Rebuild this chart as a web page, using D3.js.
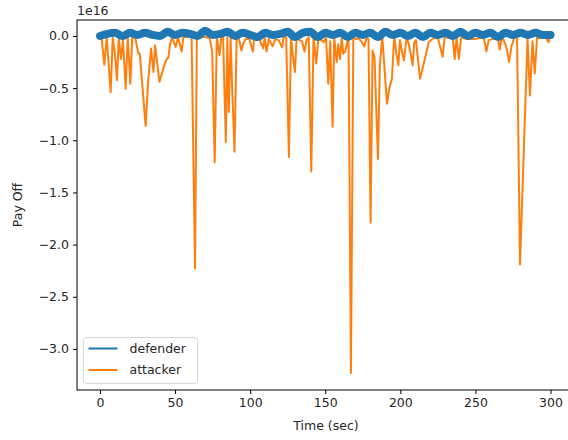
<!DOCTYPE html>
<html>
<head>
<meta charset="utf-8">
<script src="https://cdn.jsdelivr.net/npm/d3@7"></script>
<style>
  body { margin: 0; background: #fff; }
  svg { display: block; font-family: "DejaVu Sans", sans-serif; }
</style>
</head>
<body>
<div id="chart"></div>
<script>
// values in units of 1e16
const defenderTime = d3.range(0, 301, 5);
const defenderPayoff = [
    0.00, 0.02, 0.03, 0.00, 0.03, 0.01, 0.03, 0.01, 0.00, 0.04,
    0.01, 0.03, 0.02, 0.00, 0.05, 0.01, 0.02, 0.04, 0.00, 0.03,
    0.01, -0.01, 0.03, 0.01, 0.02, 0.04, -0.01, 0.03, 0.04, -0.01,
    0.03, 0.01, 0.03, -0.01, 0.03, 0.01, 0.03, -0.01, 0.04, 0.01,
    0.03, 0.00, 0.03, -0.01, 0.03, 0.01, 0.03, 0.00, 0.04, 0.00,
    0.03, 0.01, 0.03, -0.01, 0.03, 0.01, 0.03, 0.01, 0.03, 0.01,
    0.01
];

const attackerTime = [
    1, 2.9, 4.5, 7.1, 8.5, 10, 11.3, 12.5, 14, 15.3,
    17.1, 18.5, 20.2, 21.5, 23.5, 25.6, 26.5, 30.4, 32, 34,
    35.6, 36.7, 39.6, 42.2, 44.4, 45.5, 46.7, 48, 50.4, 52,
    54.4, 55.5, 58, 61, 63.3, 64.5, 67, 70, 73, 74.7,
    76.4, 77.8, 79.6, 80.8, 82, 83.8, 84.8, 85.8, 87, 88,
    89.6, 91, 92.5, 94.2, 95.5, 97, 99.5, 101.8, 102.8, 105.5,
    108.7, 109.7, 110.9, 112.5, 114.9, 116.8, 119, 121.3, 122.3, 124,
    125.8, 127.2, 128.4, 129.8, 131, 132.8, 134.5, 136.2, 137.5, 139,
    140.7, 142.2, 144, 145.3, 146.7, 149, 150.5, 152, 153.3, 154.9,
    156, 157.6, 158.7, 159.9, 161, 162, 163.2, 164.2, 165.5, 167.1,
    168.7, 170.5, 172.2, 173.8, 176, 177.5, 178.8, 180.2, 181.5, 182.8,
    185.1, 186.4, 188, 191.1, 192.7, 194.4, 195.9, 197.4, 198.7, 199.8,
    201, 202.4, 204.2, 206, 208.2, 209.3, 210.4, 213.1, 216, 218.9,
    222, 225, 228.2, 229.5, 232, 234.8, 236.2, 237.4, 239, 240.5,
    244, 250, 255.5, 257.3, 258.8, 261.5, 264.8, 266.2, 267.5, 268.8,
    270.5, 272.4, 274, 276, 277.7, 279.7, 284.7, 286.3, 288, 289.5,
    291, 293, 295, 297, 298.7, 299.5
];
const attackerPayoff = [
    -0.01, -0.275, -0.01, -0.54, -0.02, -0.18, -0.425, -0.02, -0.22, -0.04,
    -0.505, -0.01, -0.457, -0.01, -0.02, -0.17, -0.17, -0.863, -0.45, -0.12,
    -0.345, -0.09, -0.44, -0.31, -0.22, -0.21, -0.08, -0.01, -0.105, -0.01,
    -0.15, -0.01, -0.01, -0.01, -2.23, -0.01, -0.01, -0.01, -0.02, -0.15,
    -1.21, -0.01, -0.185, -0.01, -0.02, -1.02, -0.01, -0.73, -0.02, -0.5,
    -1.11, -0.01, -0.03, -0.14, -0.07, -0.03, -0.03, -0.15, -0.01, -0.01,
    -0.12, -0.01, -0.15, -0.03, -0.1, -0.03, -0.04, -0.11, -0.01, -0.01,
    -1.16, -0.01, -0.18, -0.345, -0.01, -0.04, -0.05, -0.15, -0.04, -0.01,
    -1.30, -0.01, -0.265, -0.04, -0.03, -0.06, -0.01, -0.457, -0.05, -0.87,
    -0.02, -0.25, -0.08, -0.22, -0.01, -0.17, -0.15, -0.09, -0.01, -3.23,
    -0.01, -0.03, -0.02, -0.05, -0.1, -0.02, -0.03, -1.79, -0.14, -0.2,
    -1.18, -0.27, -0.01, -0.65, -0.5, -0.41, -0.01, -0.17, -0.28, -0.04,
    -0.14, -0.235, -0.01, -0.1, -0.28, -0.06, -0.04, -0.41, -0.24, -0.06,
    -0.02, -0.02, -0.2, -0.01, -0.02, -0.01, -0.22, -0.02, -0.22, -0.01,
    -0.03, -0.03, -0.01, -0.15, -0.04, -0.03, -0.01, -0.13, -0.01, -0.04,
    -0.1, -0.25, -0.1, -0.01, -0.01, -2.19, -0.02, -0.57, -0.05, -0.36,
    -0.02, -0.02, -0.01, -0.02, -0.06, -0.01
];

const xTicks = [0, 50, 100, 150, 200, 250, 300];
const yTicks = [0, -0.5, -1.0, -1.5, -2.0, -2.5, -3.0];

const width = 568, height = 440;
const plot = { left: 77, right: 575, top: 20, bottom: 390 };

const svg = d3.select("#chart").append("svg")
    .attr("width", width)
    .attr("height", height);

const x = d3.scaleLinear().domain([-15.3, 316.3]).range([plot.left, plot.right]);
const y = d3.scaleLinear().domain([-3.394, 0.153]).range([plot.bottom, plot.top]);

svg.append("clipPath").attr("id", "clip")
    .append("rect")
    .attr("x", plot.left).attr("y", plot.top)
    .attr("width", plot.right - plot.left).attr("height", plot.bottom - plot.top);

const attacker = attackerTime.map((t, i) => [t, attackerPayoff[i]]);
const defender = defenderTime.map((t, i) => [t, defenderPayoff[i]]);

const line = d3.line().x(d => x(d[0])).y(d => y(d[1]));

const g = svg.append("g").attr("clip-path", "url(#clip)");

g.append("path")
    .datum(attacker)
    .attr("d", line)
    .attr("fill", "none")
    .attr("stroke", "#ff7f0e")
    .attr("stroke-width", 2)
    .attr("stroke-linejoin", "round");

g.append("path")
    .datum(defender)
    .attr("d", line.curve(d3.curveMonotoneX))
    .attr("fill", "none")
    .attr("stroke", "#1f77b4")
    .attr("stroke-width", 8)
    .attr("stroke-linecap", "round")
    .attr("stroke-linejoin", "round");

// axes
const fmtY = d => d3.format(".1f")(d).replace("-", "\u2212");

const xAxis = svg.append("g")
    .attr("transform", `translate(0,${plot.bottom})`)
    .call(d3.axisBottom(x).tickValues(xTicks).tickSize(4).tickPadding(4).tickFormat(d3.format("d")));
const yAxis = svg.append("g")
    .attr("transform", `translate(${plot.left},0)`)
    .call(d3.axisLeft(y).tickValues(yTicks).tickSize(4).tickPadding(4).tickFormat(fmtY));

[xAxis, yAxis].forEach(a => {
    a.select(".domain").remove();
    a.selectAll(".tick line").attr("stroke", "#000").attr("stroke-width", 1);
    a.selectAll(".tick text").attr("fill", "#262626").style("font-size", "12.5px")
        .style("font-family", "DejaVu Sans, sans-serif");
});

// spines
svg.append("rect")
    .attr("x", plot.left).attr("y", plot.top)
    .attr("width", plot.right - plot.left).attr("height", plot.bottom - plot.top)
    .attr("fill", "none").attr("stroke", "#000").attr("stroke-width", 1);

// labels
svg.append("text")
    .attr("x", plot.left).attr("y", 15)
    .style("font-size", "12.5px").attr("fill", "#262626")
    .text("1e16");

svg.append("text")
    .attr("x", (plot.left + plot.right) / 2).attr("y", 430)
    .attr("text-anchor", "middle")
    .style("font-size", "12.5px").attr("fill", "#262626")
    .text("Time (sec)");

svg.append("text")
    .attr("transform", `translate(22,${(plot.top + plot.bottom) / 2}) rotate(-90)`)
    .attr("text-anchor", "middle")
    .style("font-size", "12.5px").attr("fill", "#262626")
    .text("Pay Off");

// legend
const legend = svg.append("g").attr("transform", "translate(83.5,337.5)");
legend.append("rect")
    .attr("width", 114).attr("height", 46).attr("rx", 3)
    .attr("fill", "#fff").attr("fill-opacity", 0.8)
    .attr("stroke", "#d6d6d6").attr("stroke-width", 1);

const series = [
    { name: "defender", color: "#1f77b4" },
    { name: "attacker", color: "#ff7f0e" }
];
series.forEach((s, i) => {
    const cy = 11 + i * 21.5;
    legend.append("line")
        .attr("x1", 5).attr("x2", 34).attr("y1", cy).attr("y2", cy)
        .attr("stroke", s.color).attr("stroke-width", 2);
    legend.append("text")
        .attr("x", 46).attr("y", cy).attr("dy", "0.35em")
        .style("font-size", "12.5px").attr("fill", "#262626")
        .text(s.name);
});
</script>
</body>
</html>
